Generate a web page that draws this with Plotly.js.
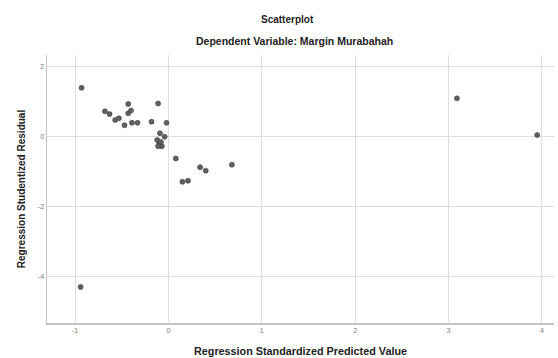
<!DOCTYPE html>
<html>
<head>
<meta charset="utf-8">
<script src="https://cdn.plot.ly/plotly-3.0.1.min.js"></script>
<style>html,body{margin:0;padding:0;background:#fff;}#chart{width:558px;height:358px;}</style>
</head>
<body>
<div id="chart"></div>
<script>
// Regression standardized predicted value (x) and studentized residual (y)
const predicted = [-0.93, -0.68, -0.63, -0.57, -0.53, -0.43, -0.43, -0.40, -0.47, -0.39, -0.33,
                   -0.18, -0.11, -0.02, -0.09, -0.04, -0.12, -0.10, -0.07, -0.11, -0.08,
                   0.08, 0.34, 0.40, 0.68, 0.15, 0.21, 3.09, 3.95, -0.94];
const residual  = [1.40, 0.73, 0.65, 0.48, 0.53, 0.94, 0.67, 0.75, 0.33, 0.40, 0.40,
                   0.43, 0.95, 0.40, 0.10, 0.00, -0.09, -0.21, -0.27, -0.27, -0.15,
                   -0.62, -0.87, -0.97, -0.80, -1.29, -1.26, 1.10, 0.05, -4.30];
const xTicks = [-1, 0, 1, 2, 3, 4];
const yTicks = [2, 0, -2, -4];

const fontFam = 'Liberation Sans, Arial, sans-serif';
const trace = {
  x: predicted, y: residual, type: 'scatter', mode: 'markers',
  marker: {size: 5, color: '#616161', line: {color: '#3a3a3a', width: 0.6}},
  hoverinfo: 'x+y'
};
const layout = {
  width: 558, height: 358,
  margin: {l: 47, r: 4, t: 55, b: 35},
  paper_bgcolor: '#ffffff', plot_bgcolor: '#ffffff',
  showlegend: false,
  font: {family: fontFam, color: '#222'},
  xaxis: {
    range: [-1.30, 4.13], tickvals: xTicks, ticktext: xTicks.map(String),
    showgrid: true, gridcolor: '#dedede', gridwidth: 1, zeroline: false,
    showline: true, linecolor: '#c4c4c4', linewidth: 1.5,
    ticks: '', tickfont: {size: 7, color: '#777', family: fontFam},
    title: {text: '<b>Regression Standardized Predicted Value</b>', font: {size: 10.8, color: '#222', family: fontFam}, standoff: 14}
  },
  yaxis: {
    range: [-5.33, 2.34], tickvals: yTicks, ticktext: yTicks.map(String),
    showgrid: true, gridcolor: '#dedede', gridwidth: 1, zeroline: false,
    showline: true, linecolor: '#c4c4c4', linewidth: 1.5,
    ticks: '', tickfont: {size: 7, color: '#777', family: fontFam},
    title: {text: '<b>Regression Studentized Residual</b>', font: {size: 10, color: '#222', family: fontFam}, standoff: 10}
  },
  annotations: [
    {text: '<b>Scatterplot</b>', xref: 'paper', yref: 'paper', x: 0.475, y: 1, yshift: 36,
     xanchor: 'center', yanchor: 'middle', showarrow: false, font: {size: 10, color: '#222', family: fontFam}},
    {text: '<b>Dependent Variable: Margin Murabahah</b>', xref: 'paper', yref: 'paper', x: 0.488, y: 1, yshift: 14,
     xanchor: 'center', yanchor: 'middle', showarrow: false, font: {size: 10.5, color: '#222', family: fontFam}}
  ]
};
Plotly.newPlot('chart', [trace], layout, {displayModeBar: false, staticPlot: true});
</script>
</body>
</html>
